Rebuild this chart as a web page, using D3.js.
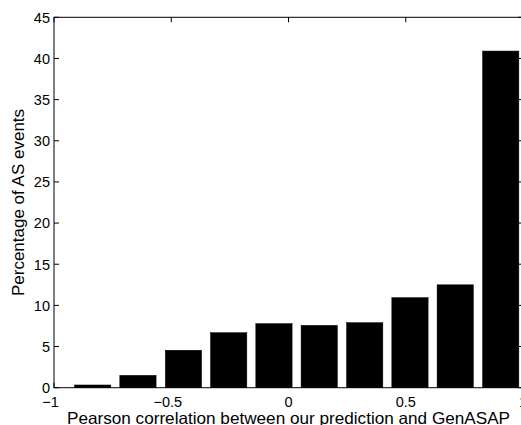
<!DOCTYPE html>
<html><head><meta charset="utf-8">
<script src="https://cdn.jsdelivr.net/npm/d3@7"></script>
<style>body{margin:0;background:#fff;overflow:hidden}svg{display:block}text{font-family:"Liberation Sans",Arial,sans-serif;fill:#000}</style>
</head><body><div id="c"></div>
<script>
const binCenters = [-0.835, -0.642, -0.448, -0.255, -0.062, 0.131, 0.325, 0.518, 0.711, 0.905];
const percentages = [0.33, 1.5, 4.55, 6.68, 7.78, 7.57, 7.9, 10.94, 12.5, 40.9];
const xTicks = [-1, -0.5, 0, 0.5, 1];
const xTickLabels = ["\u22121", "\u22120.5", "0", "0.5", "1"];
const yTicks = [0, 5, 10, 15, 20, 25, 30, 35, 40, 45];
const xLabel = "Pearson correlation between our prediction and GenASAP";
const yLabel = "Percentage of AS events";

const W = 521, H = 425;
const L = 54, R = 523, T = 17.3, B = 387.7;
const svg = d3.select("#c").append("svg").attr("width", W).attr("height", H);
const x = d3.scaleLinear().domain([-1, 1]).range([L, R]);
const y = d3.scaleLinear().domain([0, 45]).range([B, T]);
const binW = (binCenters[binCenters.length-1] - binCenters[0]) / (binCenters.length - 1);
const barW = x(binW * 0.8) - x(0);

// ticks (inward) on all four sides
const tl = 5;
const g = svg.append("g");
g.selectAll(".xb").data(xTicks).join("line").attr("x1", d => x(d)).attr("x2", d => x(d)).attr("y1", B).attr("y2", B - tl).attr("stroke", "#000");
g.selectAll(".xt").data(xTicks).join("line").attr("x1", d => x(d)).attr("x2", d => x(d)).attr("y1", T).attr("y2", T + tl).attr("stroke", "#000");
g.selectAll(".yl").data(yTicks).join("line").attr("x1", L).attr("x2", L + tl).attr("y1", d => y(d)).attr("y2", d => y(d)).attr("stroke", "#000");
g.selectAll(".yr").data(yTicks).join("line").attr("x1", R).attr("x2", R - tl).attr("y1", d => y(d)).attr("y2", d => y(d)).attr("stroke", "#000");

// bars
svg.selectAll("rect.bar").data(binCenters).join("rect").attr("class", "bar")
  .attr("x", d => x(d) - barW / 2).attr("width", barW)
  .attr("y", (d, i) => y(percentages[i])).attr("height", (d, i) => B - y(percentages[i]))
  .attr("fill", "#000").attr("stroke", "#000").attr("stroke-width", 0.5);

// box
svg.append("rect").attr("x", L).attr("y", T).attr("width", R - L).attr("height", B - T)
  .attr("fill", "none").attr("stroke", "#000").attr("stroke-width", 1);

// tick labels
svg.selectAll("text.xl").data(xTicks).join("text").attr("class", "xl")
  .attr("x", d => x(d)).attr("dx", d => d < 0 ? -3.5 : 0).attr("y", 406.5).attr("text-anchor", "middle").attr("font-size", 14.5)
  .text((d, i) => xTickLabels[i]);
svg.selectAll("text.yl").data(yTicks).join("text").attr("class", "yl")
  .attr("x", L - 4).attr("y", d => y(d) + 5.3).attr("text-anchor", "end").attr("font-size", 14.5)
  .text(d => d);

// axis labels
svg.append("text").attr("x", x(0)).attr("y", 423.5).attr("text-anchor", "middle").attr("font-size", 16.5)
  .attr("textLength", 443).attr("lengthAdjust", "spacingAndGlyphs").text(xLabel);
svg.append("text").attr("transform", `translate(24,${(T + B) / 2}) rotate(-90)`).attr("text-anchor", "middle")
  .attr("font-size", 17).text(yLabel);
</script></body></html>
